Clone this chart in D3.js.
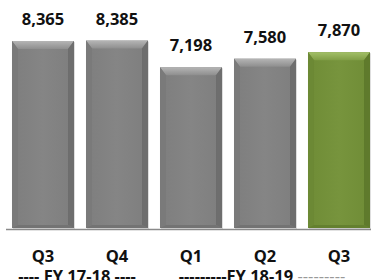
<!DOCTYPE html>
<html><head><meta charset="utf-8">
<script src="https://cdn.jsdelivr.net/npm/d3@7"></script>
<style>html,body{margin:0;padding:0;background:#fff;}svg{display:block;}</style>
</head><body>
<svg id="c" width="371" height="280"></svg>
<script>
const quarters = ["Q3", "Q4", "Q1", "Q2", "Q3"];
const values = [8365, 8385, 7198, 7580, 7870];
const highlight = [false, false, false, false, true];
const groupLabels = ["---- FY 17-18 ----", "---------FY 18-19 "];
const groupTrail = ["", "---------"];
const groupSpans = [[0, 1], [2, 4]];

const svg = d3.select("#c");
const baseY = 229;
const x = d3.scaleBand().domain(d3.range(quarters.length)).range([6, 376]).paddingInner(0.162).paddingOuter(0.081);
const y = d3.scaleLinear().domain([0, 10000]).range([baseY, baseY - 224.7]);

const defs = svg.append("defs");
function grad(id, stops, x1, y1, x2, y2) {
  const g = defs.append("linearGradient").attr("id", id)
    .attr("x1", x1).attr("y1", y1).attr("x2", x2).attr("y2", y2);
  stops.forEach(s => g.append("stop").attr("offset", s[0]).attr("stop-color", s[1]));
}
grad("gBody", [[0, "#7e7e7e"], [0.5, "#858585"], [1, "#7e7e7e"]], 0, 0, 1, 0);
grad("gTop", [[0, "#b5b5b5"], [1, "#8e8e8e"]], 0, 0, 0, 1);
grad("vBody", [[0, "#6f8c36"], [0.5, "#77943d"], [1, "#6f8c36"]], 0, 0, 1, 0);
grad("vTop", [[0, "#a3c068"], [1, "#809e45"]], 0, 0, 0, 1);

// axis line
svg.append("line").attr("x1", 6).attr("x2", 371).attr("y1", baseY + 0.5).attr("y2", baseY + 0.5)
  .attr("stroke", "#8a8a8a").attr("stroke-width", 1.6);

const bev = 6;
values.forEach((v, i) => {
  const x0 = x(i), w = x.bandwidth(), x1 = x0 + w, yt = y(v), yb = baseY - 1;
  const hl = highlight[i];
  const g = svg.append("g");
  // shadow
  g.append("rect").attr("x", x0 + 1).attr("y", yt + 1).attr("width", w).attr("height", yb - yt)
    .attr("fill", "#000").attr("opacity", 0.12);
  g.append("rect").attr("x", x0).attr("y", yt).attr("width", w).attr("height", yb - yt)
    .attr("fill", hl ? "url(#vBody)" : "url(#gBody)");
  // top bevel
  g.append("polygon").attr("points", `${x0},${yt} ${x1},${yt} ${x1 - bev},${yt + bev + 2} ${x0 + bev},${yt + bev + 2}`)
    .attr("fill", hl ? "url(#vTop)" : "url(#gTop)");
  // left bevel
  g.append("polygon").attr("points", `${x0},${yt} ${x0 + bev},${yt + bev + 2} ${x0 + bev},${yb - 3} ${x0},${yb}`)
    .attr("fill", hl ? "#6c8935" : "#7a7a7a");
  // right bevel
  g.append("polygon").attr("points", `${x1},${yt} ${x1 - bev},${yt + bev + 2} ${x1 - bev},${yb - 3} ${x1},${yb}`)
    .attr("fill", hl ? "#5f7a2c" : "#6e6e6e");
  // bottom bevel
  g.append("polygon").attr("points", `${x0},${yb} ${x0 + bev},${yb - 3} ${x1 - bev},${yb - 3} ${x1},${yb}`)
    .attr("fill", hl ? "#64802f" : "#737373");
  // value label
  svg.append("text").attr("x", x0 + w / 2).attr("y", yt - 16)
    .attr("text-anchor", "middle").attr("font-family", "Open Sans").attr("font-weight", "bold")
    .attr("font-size", 16.5).attr("fill", "#111").text(d3.format(",")(v));
  // quarter label
  svg.append("text").attr("x", x0 + w / 2).attr("y", 262)
    .attr("text-anchor", "middle").attr("font-family", "Open Sans").attr("font-weight", "bold")
    .attr("font-size", 16.5).attr("fill", "#111").text(quarters[i]);
});

groupSpans.forEach((s, k) => {
  const cx = (x(s[0]) + x(s[1]) + x.bandwidth()) / 2 - 3;
  const t = svg.append("text").attr("x", cx).attr("y", 282)
    .attr("text-anchor", "middle").attr("font-family", "Open Sans").attr("font-weight", "bold")
    .attr("font-size", 16.5).attr("fill", "#111");
  t.append("tspan").text(groupLabels[k]);
  if (groupTrail[k]) t.append("tspan").attr("font-weight", "normal").attr("fill", "#999").text(groupTrail[k]);
});
</script>
</body></html>
